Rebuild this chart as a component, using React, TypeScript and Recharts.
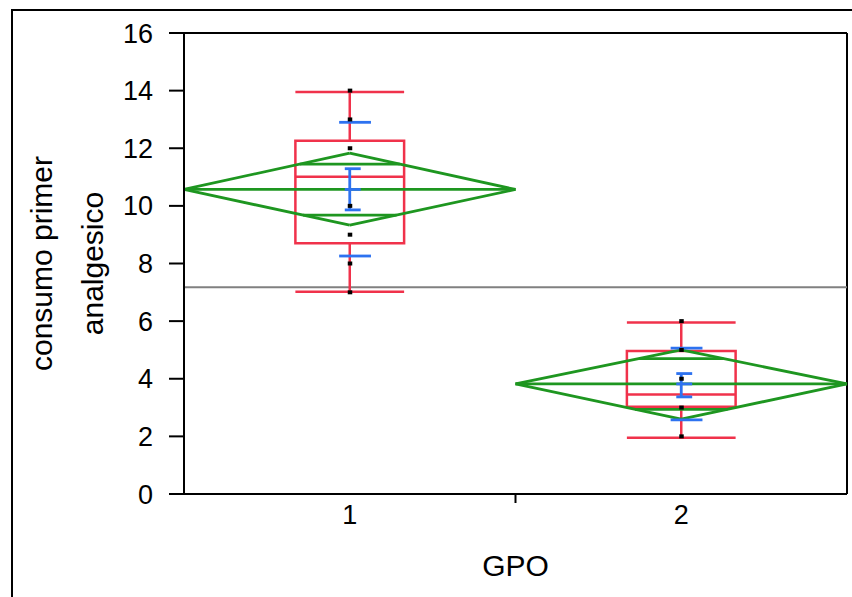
import React from "react";
import {
  ComposedChart,
  XAxis,
  YAxis,
  ReferenceLine,
  ReferenceArea,
  Scatter,
} from "recharts";

// groups on the x axis
const groups = [1, 2];
// raw observations per group
const obs1 = [14, 13, 12, 10, 9, 8, 7];
const obs2 = [6, 5, 4, 3, 2];
// means diamonds
const means = [10.57, 3.82];
const diamondHi = [11.83, 5.0];
const diamondLo = [9.33, 2.6];
const overlapHi = [11.45, 4.7];
const overlapLo = [9.68, 2.94];
// box plot
const q1 = [8.7, 3.03];
const medians = [11.01, 3.45];
const q3 = [12.26, 4.96];
const whiskerLo = [7.02, 1.95];
const whiskerHi = [13.95, 5.95];
// std dev and std error bars
const sdLo = [8.26, 2.57];
const sdHi = [12.9, 5.06];
const seLo = [9.86, 3.37];
const seHi = [11.29, 4.18];
const grandMean = 7.18;
const yTicks = [0, 2, 4, 6, 8, 10, 12, 14, 16];
const xTicks = [1, 1.5, 2];

const FONT = "'Liberation Sans', Arial, sans-serif";
const RED = "#f0324b";
const GREEN = "#1e9620";
const BLUE = "#2d72f0";
const GRAY = "#808080";

const BOX_HALF = 0.164;
const SD_L = 0.032;
const SD_R = 0.064;
const SE_L = 0.015;
const SE_R = 0.033;

const points = [
  ...obs1.map((v) => ({ x: groups[0], y: v })),
  ...obs2.map((v) => ({ x: groups[1], y: v })),
];

type Seg = { k: string; a: [number, number]; b: [number, number]; color: string; w: number };

const segs: Seg[] = [];
groups.forEach((g, i) => {
  // whiskers
  segs.push({ k: `wl${i}`, a: [g, whiskerLo[i]], b: [g, q1[i]], color: RED, w: 2.5 });
  segs.push({ k: `wh${i}`, a: [g, q3[i]], b: [g, whiskerHi[i]], color: RED, w: 2.5 });
  segs.push({ k: `cl${i}`, a: [g - BOX_HALF, whiskerLo[i]], b: [g + BOX_HALF, whiskerLo[i]], color: RED, w: 2.5 });
  segs.push({ k: `ch${i}`, a: [g - BOX_HALF, whiskerHi[i]], b: [g + BOX_HALF, whiskerHi[i]], color: RED, w: 2.5 });
  segs.push({ k: `md${i}`, a: [g - BOX_HALF, medians[i]], b: [g + BOX_HALF, medians[i]], color: RED, w: 2.5 });
});
const greenSegs: Seg[] = [];
groups.forEach((g, i) => {
  const l = g - 0.5;
  const r = g + 0.5;
  greenSegs.push({ k: `d1${i}`, a: [l, means[i]], b: [g, diamondHi[i]], color: GREEN, w: 2.8 });
  greenSegs.push({ k: `d2${i}`, a: [g, diamondHi[i]], b: [r, means[i]], color: GREEN, w: 2.8 });
  greenSegs.push({ k: `d3${i}`, a: [r, means[i]], b: [g, diamondLo[i]], color: GREEN, w: 2.8 });
  greenSegs.push({ k: `d4${i}`, a: [g, diamondLo[i]], b: [l, means[i]], color: GREEN, w: 2.8 });
  greenSegs.push({ k: `dm${i}`, a: [l, means[i]], b: [r, means[i]], color: GREEN, w: 2.8 });
  const hh = 0.5 * (1 - (overlapHi[i] - means[i]) / (diamondHi[i] - means[i]));
  const hl = 0.5 * (1 - (means[i] - overlapLo[i]) / (means[i] - diamondLo[i]));
  greenSegs.push({ k: `oh${i}`, a: [g - hh, overlapHi[i]], b: [g + hh, overlapHi[i]], color: GREEN, w: 2.8 });
  greenSegs.push({ k: `ol${i}`, a: [g - hl, overlapLo[i]], b: [g + hl, overlapLo[i]], color: GREEN, w: 2.8 });
});
const blueSegs: Seg[] = [];
groups.forEach((g, i) => {
  blueSegs.push({ k: `sv${i}`, a: [g, seLo[i]], b: [g, seHi[i]], color: BLUE, w: 2.8 });
  blueSegs.push({ k: `sl${i}`, a: [g - SE_L, seLo[i]], b: [g + SE_R, seLo[i]], color: BLUE, w: 2.8 });
  blueSegs.push({ k: `sh${i}`, a: [g - SE_L, seHi[i]], b: [g + SE_R, seHi[i]], color: BLUE, w: 2.8 });
  blueSegs.push({ k: `sm${i}`, a: [g - SE_L, means[i]], b: [g + SE_R, means[i]], color: BLUE, w: 2.8 });
  blueSegs.push({ k: `dl${i}`, a: [g - SD_L, sdLo[i]], b: [g + SD_R, sdLo[i]], color: BLUE, w: 2.8 });
  blueSegs.push({ k: `dh${i}`, a: [g - SD_L, sdHi[i]], b: [g + SD_R, sdHi[i]], color: BLUE, w: 2.8 });
});

const renderSeg = (s: Seg) => (
  <ReferenceLine
    key={s.k}
    segment={[
      { x: s.a[0], y: s.a[1] },
      { x: s.b[0], y: s.b[1] },
    ]}
    stroke={s.color}
    strokeWidth={s.w}
    ifOverflow="visible"
  />
);

const XTick = (props: any) => {
  const { x, y, payload } = props;
  if (payload.value === 1.5) {
    return <line x1={x} x2={x} y1={y} y2={y + 9} stroke="#000" strokeWidth={2} />;
  }
  return (
    <text x={x} y={y + 30} textAnchor="middle" fill="#000" fontSize={27} fontFamily={FONT}>
      {payload.value}
    </text>
  );
};

const YLabel = (props: any) => {
  const vb = props.viewBox || { x: 0, y: 33, width: 184, height: 461 };
  const cy = vb.y + vb.height / 2;
  const x1 = vb.x + 52;
  const x2 = vb.x + 103;
  return (
    <g fontFamily={FONT} fontSize={30} fill="#000">
      <text x={x1} y={cy} textAnchor="middle" transform={`rotate(-90, ${x1}, ${cy})`}>
        consumo primer
      </text>
      <text x={x2} y={cy} textAnchor="middle" transform={`rotate(-90, ${x2}, ${cy})`}>
        analgesico
      </text>
    </g>
  );
};

export default function App() {
  return (
    <div style={{ position: "fixed", left: 0, top: 0, width: 852, height: 597, background: "#fff", overflow: "hidden" }}>
      <div
        style={{
          position: "absolute",
          left: 11,
          top: 9,
          width: 900,
          height: 700,
          borderTop: "2px solid #000",
          borderLeft: "2px solid #000",
        }}
      />
      <div style={{ position: "absolute", left: 0, top: 0 }}>
        <ComposedChart width={852} height={597} margin={{ top: 33, right: 5, bottom: 0, left: 0 }}>
          <XAxis
            dataKey="x"
            type="number"
            domain={[0.5, 2.5]}
            ticks={xTicks}
            allowDataOverflow
            height={103}
            tickSize={0}
            tickMargin={0}
            tickLine={false}
            axisLine={{ stroke: "#000", strokeWidth: 2 }}
            tick={<XTick />}
            interval={0}
            label={{ value: "GPO", position: "insideBottom", offset: 21, fill: "#000", fontSize: 30, fontFamily: FONT }}
          />
          <YAxis
            dataKey="y"
            type="number"
            domain={[0, 16]}
            ticks={yTicks}
            allowDataOverflow
            width={184}
            tickSize={15}
            tickMargin={16}
            interval={0}
            tickLine={{ stroke: "#000", strokeWidth: 2 }}
            axisLine={{ stroke: "#000", strokeWidth: 2 }}
            tick={{ fill: "#000", fontSize: 27, fontFamily: FONT }}
            label={<YLabel />}
          />
          <ReferenceLine y={16} stroke="#000" strokeWidth={2} ifOverflow="visible" />
          <ReferenceLine x={2.5} stroke="#000" strokeWidth={2} ifOverflow="visible" />
          <ReferenceLine y={grandMean} stroke={GRAY} strokeWidth={2} ifOverflow="visible" />
          {groups.map((g, i) => (
            <ReferenceArea
              key={`box${i}`}
              x1={g - BOX_HALF}
              x2={g + BOX_HALF}
              y1={q1[i]}
              y2={q3[i]}
              fill="none"
              fillOpacity={0}
              stroke={RED}
              strokeWidth={2.5}
              strokeOpacity={1}
              ifOverflow="visible"
            />
          ))}
          {segs.map(renderSeg)}
          {greenSegs.map(renderSeg)}
          {blueSegs.map(renderSeg)}
          <Scatter
            data={points}
            dataKey="y"
            isAnimationActive={false}
            shape={(p: any) => <rect x={p.cx - 2} y={p.cy - 2} width={4.5} height={4} fill="#000" />}
          />
        </ComposedChart>
      </div>
    </div>
  );
}
